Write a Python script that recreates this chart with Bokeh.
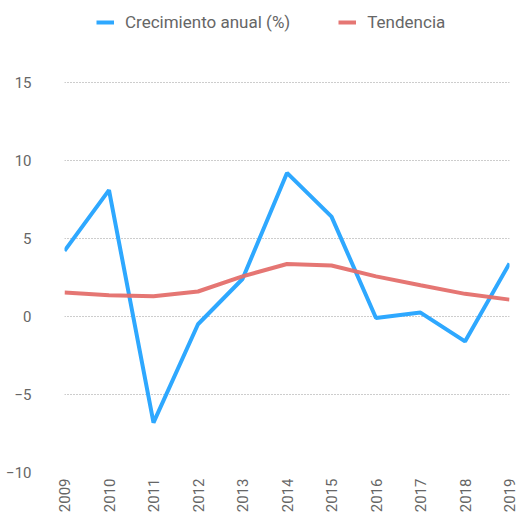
from bokeh.plotting import figure
from bokeh.models import Legend, LegendItem, FixedTicker, Range1d
from bokeh.embed import file_html
from bokeh.resources import INLINE

years = [2009, 2010, 2011, 2012, 2013, 2014, 2015, 2016, 2017, 2018, 2019]
crecimiento = [4.2, 8.1, -6.8, -0.5, 2.4, 9.2, 6.4, -0.1, 0.25, -1.6, 3.4]
tendencia = [1.53, 1.36, 1.3, 1.6, 2.57, 3.36, 3.27, 2.57, 2.0, 1.45, 1.08]
y_ticks = [-10, -5, 0, 5, 10, 15]

BLUE = "#2ea8ff"
RED = "#e46f6b"
GREY = "#666666"
FONT = "Roboto"

p = figure(width=520, height=515, output_backend="svg", toolbar_location=None,
           x_range=Range1d(2009, 2019), y_range=Range1d(-10, 20.25),
           min_border_left=64, min_border_right=11, min_border_top=0,
           min_border_bottom=0)
p.outline_line_color = None
p.background_fill_color = "white"

r1 = p.line(years, crecimiento, line_color=BLUE, line_width=4)
r2 = p.line(years, tendencia, line_color=RED, line_width=4, line_alpha=0.95)

p.xgrid.visible = False
p.ygrid.ticker = FixedTicker(ticks=y_ticks)
p.ygrid.grid_line_color = "#9a9a9a"
p.ygrid.grid_line_dash = "1 2"
p.ygrid.grid_line_width = 1

p.yaxis.ticker = FixedTicker(ticks=y_ticks)
p.xaxis.ticker = FixedTicker(ticks=years)
for ax in (p.xaxis, p.yaxis):
    ax.axis_line_color = None
    ax.major_tick_line_color = None
    ax.minor_tick_line_color = None
    ax.major_label_text_color = GREY
    ax.major_label_text_font = FONT
    ax.major_label_text_font_size = "15px"
p.yaxis.major_label_standoff = 27
p.xaxis.major_label_orientation = 1.5708
p.xaxis.major_label_standoff = 0

legend = Legend(items=[LegendItem(label="Crecimiento anual (%)", renderers=[r1]),
                       LegendItem(label="Tendencia", renderers=[r2])],
                orientation="horizontal", location=(32, 440),
                padding=4, margin=0, spacing=48, glyph_width=18,
                label_standoff=11, border_line_color=None,
                background_fill_alpha=0,
                label_text_font=FONT, label_text_font_size="17px",
                label_text_color=GREY)
p.add_layout(legend, "center")

open("out.html", "w").write(file_html(p, INLINE))
